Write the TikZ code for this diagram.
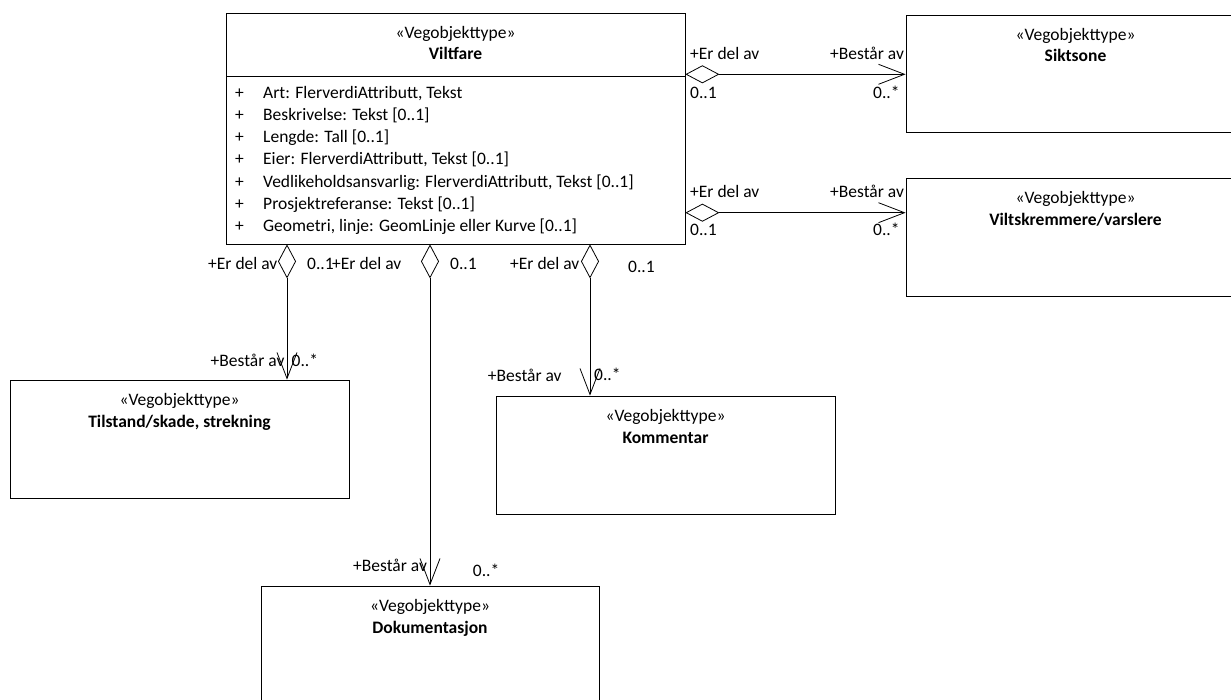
\documentclass[tikz,border=0pt]{standalone}
\usepackage{fontspec}
\setmainfont{Carlito}
\usetikzlibrary{arrows.meta}
\begin{document}
\begin{tikzpicture}[x=1pt,y=-1pt,
  box/.style={draw=black, line width=0.8pt, fill=white, rectangle, inner sep=0pt},
  txt/.style={font=\fontsize{17.5}{21}\selectfont, anchor=base west, inner sep=0pt},
  ctr/.style={font=\fontsize{17.5}{21}\selectfont, anchor=base, inner sep=0pt},
  agg/.style={line width=0.8pt, draw=black,
    {Diamond[open,length=34pt,width=18pt,line width=0.8pt]}-{Straight Barb[length=26pt,width=20pt,line width=0.8pt]}}
]
\useasboundingbox (0,0) rectangle (1231,700);
\fill[white] (0,0) rectangle (1231,700);

% boxes
\node[box, minimum width=459pt, minimum height=231pt] (vilt) at (455.5,128.5) {};
\node[box, minimum width=339pt, minimum height=117pt] (sikt) at (1075.5,73.5) {};
\node[box, minimum width=339pt, minimum height=118pt] (vskr) at (1075.5,237) {};
\node[box, minimum width=339pt, minimum height=118pt] (tils) at (179.5,439) {};
\node[box, minimum width=339pt, minimum height=118pt] (komm) at (665.5,455) {};
\node[box, minimum width=338pt, minimum height=124pt] (doku) at (430,648) {};

% Viltfare contents
\draw[line width=0.8pt] (226,76) coordinate (dl) -- (685,76) coordinate (dr);
\node[ctr] (vs) at ([yshift=-26pt]vilt.north) {«Vegobjekttype»};
\node[ctr] (vn) at ([yshift=-47pt]vilt.north) {\textbf{Viltfare}};
\foreach \t [count=\i] in {{Art: FlerverdiAttributt, Tekst},
  {Beskrivelse: Tekst [0..1]},
  {Lengde: Tall [0..1]},
  {Eier: FlerverdiAttributt, Tekst [0..1]},
  {Vedlikeholdsansvarlig: FlerverdiAttributt, Tekst [0..1]},
  {Prosjektreferanse: Tekst [0..1]},
  {Geometri, linje: GeomLinje eller Kurve [0..1]}}{
  \node[txt] (p\i) at (235,{98.3+22.2*(\i-1)}) {+};
  \node[txt] (a\i) at (263,{98.3+22.2*(\i-1)}) {\t};
}

% other boxes contents
\node[ctr] (ss) at ([yshift=-25.5pt]sikt.north) {«Vegobjekttype»};
\node[ctr] (sn) at ([yshift=-47pt]sikt.north) {\textbf{Siktsone}};
\node[ctr] (vks) at ([yshift=-26pt]vskr.north) {«Vegobjekttype»};
\node[ctr] (vkn) at ([yshift=-47.5pt]vskr.north) {\textbf{Viltskremmere/varslere}};
\node[ctr] (ts) at ([yshift=-26pt]tils.north) {«Vegobjekttype»};
\node[ctr] (tn) at ([yshift=-47.5pt]tils.north) {\textbf{Tilstand/skade, strekning}};
\node[ctr] (ks) at ([yshift=-26pt]komm.north) {«Vegobjekttype»};
\node[ctr] (kn) at ([yshift=-47.5pt]komm.north) {\textbf{Kommentar}};
\node[ctr] (ds) at ([yshift=-26pt]doku.north) {«Vegobjekttype»};
\node[ctr] (dn) at ([yshift=-47.5pt]doku.north) {\textbf{Dokumentasjon}};

% connector helper coordinates
\coordinate (r1) at (0,74.3);
\coordinate (r2) at (0,212.7);
\coordinate (b1) at (287,0);
\coordinate (b2) at (430,0);
\coordinate (b3) at (590,0);

\draw[agg] (vilt.east |- r1) -- (sikt.west |- r1);
\draw[agg] (vilt.east |- r2) -- (vskr.west |- r2);
\draw[agg] (vilt.south -| b1) -- (tils.north -| b1);
\draw[agg] (vilt.south -| b2) -- (doku.north -| b2);
\draw[agg] (vilt.south -| b3) -- (komm.north -| b3);

% role labels
\node[txt] (l1) at (690,59.5) {+Er del av};
\node[txt] (l2) at (690,98.5) {0..1};
\node[txt] (l3) at (830,59.5) {+Består av};
\node[txt] (l4) at (873,98.5) {0..*};
\node[txt] (l5) at (690,197.7) {+Er del av};
\node[txt] (l6) at (690,236) {0..1};
\node[txt] (l7) at (830,197.7) {+Består av};
\node[txt] (l8) at (873,236) {0..*};

\node[txt] (m1) at (208,270) {+Er del av};
\node[txt] (m2) at (307,270) {0..1};
\node[txt] (m3) at (210.5,366.7) {+Består av};
\node[txt] (m4) at (291.5,366.7) {0..*};

\node[txt] (n1) at (332,270) {+Er del av};
\node[txt] (n2) at (450,270) {0..1};
\node[txt] (n3) at (353,571.7) {+Består av};
\node[txt] (n4) at (472.7,576) {0..*};

\node[txt] (o1) at (510,270) {+Er del av};
\node[txt] (o2) at (628,273) {0..1};
\node[txt] (o3) at (487.7,381.7) {+Består av};
\node[txt] (o4) at (594,380.7) {0..*};
\end{tikzpicture}
\end{document}
